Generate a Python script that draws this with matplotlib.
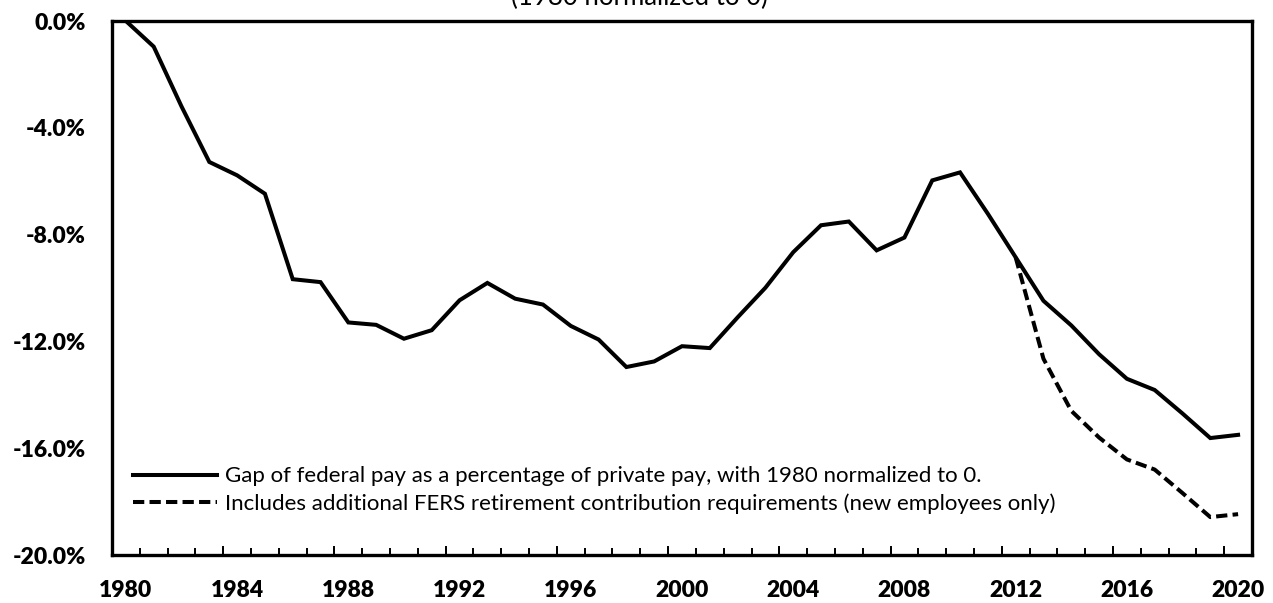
import numpy as np
import matplotlib
matplotlib.use("Agg")
import matplotlib.pyplot as plt

years = list(range(1980, 2021))
gap = [0.0, -0.96, -3.2, -5.28, -5.78, -6.47, -9.67, -9.78, -11.29, -11.38,
       -11.9, -11.58, -10.46, -9.81, -10.4, -10.62, -11.42, -11.93, -12.96, -12.75,
       -12.18, -12.25, -11.1, -9.99, -8.66, -7.65, -7.51, -8.59, -8.11, -5.97,
       -5.67, -7.22, -8.85, -10.48, -11.4, -12.48, -13.4, -13.82, -14.7, -15.62, -15.5]
fers_years = list(range(2012, 2021))
fers_gap = [-8.85, -12.65, -14.6, -15.6, -16.42, -16.8, -17.68, -18.58, -18.47]

label_years = list(range(1980, 2021, 4))
ytick_vals = [0, -4, -8, -12, -16, -20]

label1 = "Gap of federal pay as a percentage of private pay, with 1980 normalized to 0."
label2 = "Includes additional FERS retirement contribution requirements (new employees only)"
subtitle = "(1980 normalized to 0)"

plt.rcParams['font.family'] = ['Lato', 'DejaVu Sans']

fig = plt.figure(figsize=(12.73, 6.03), dpi=100)
ax = fig.add_axes([112/1273, 48/603, 1140/1273, 534/603])

ax.plot(years, gap, color='black', lw=2.9, solid_joinstyle='miter', label=label1)
ax.plot(fers_years, fers_gap, color='black', lw=2.9, linestyle=(0, (2.8, 1.3)),
        dash_capstyle='butt', label=label2)

ax.set_xlim(1979.5, 2020.5)
ax.set_ylim(-20, 0)

for s in ax.spines.values():
    s.set_linewidth(2.4)
    s.set_color('black')

ax.set_yticks(ytick_vals)
ax.set_yticklabels([f"{v:.1f}%" for v in ytick_vals], fontweight='heavy', fontsize=16.5)
ax.tick_params(axis='y', length=0, pad=19)

ax.set_xticks(label_years)
ax.set_xticklabels([str(y) for y in label_years], fontweight='heavy', fontsize=16.5)
ax.set_xticks(np.arange(1980.5, 2020, 1), minor=True)
ax.tick_params(axis='x', which='major', length=0, pad=18)
ax.tick_params(axis='x', which='minor', direction='in', length=4.8, width=1.4)

# longer ticks every 4 years, between categories
sec = ax.secondary_xaxis('bottom')
sec.set_xticks(np.arange(1983.5, 2020, 4))
sec.set_xticklabels([])
sec.tick_params(direction='in', length=6.5, width=1.4)
sec.spines['bottom'].set_visible(False)

leg = ax.legend(loc='upper left', bbox_to_anchor=(0.0184, 0.166), frameon=False,
                fontsize=16, handlelength=3.78, handletextpad=0.36,
                labelspacing=0.32, borderpad=0, borderaxespad=0)

fig.text(0.502, 0.992, subtitle, ha='center', va='baseline', fontsize=18.5)

fig.savefig("out.png", dpi=100)
